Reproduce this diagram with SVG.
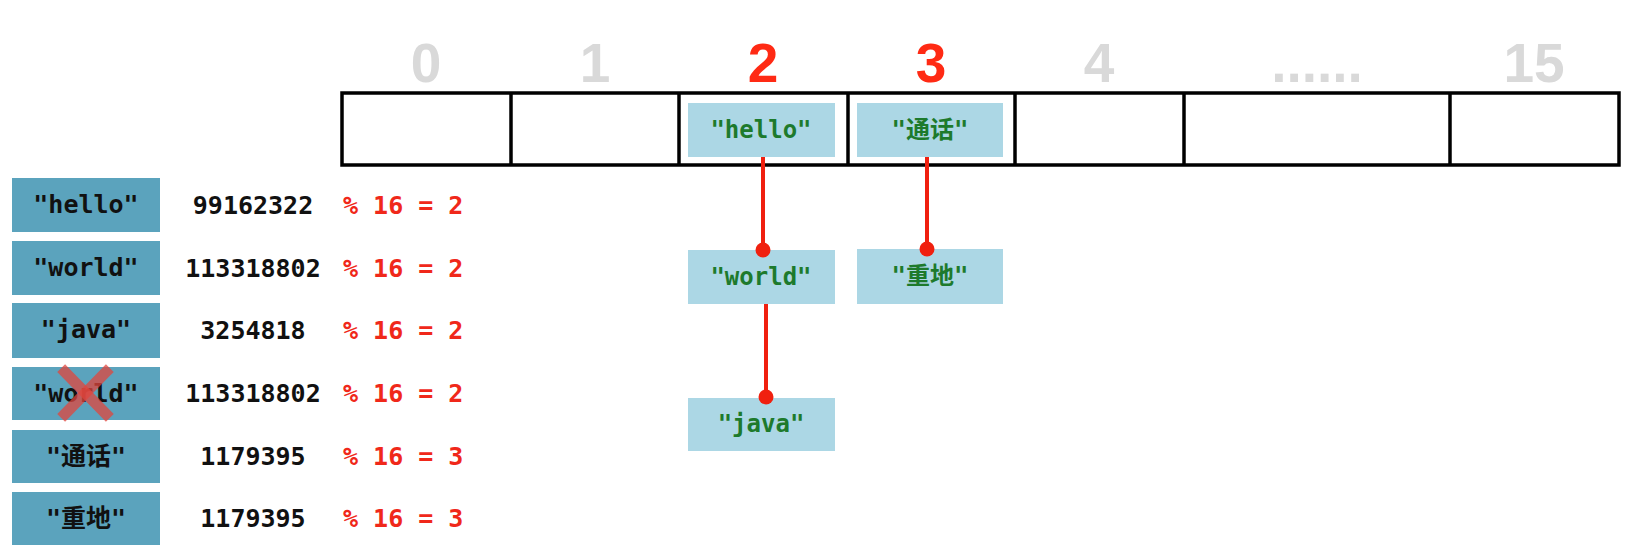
<svg xmlns="http://www.w3.org/2000/svg" width="1642" height="556" viewBox="0 0 1642 556">
<style>
.idx{font-family:"Liberation Sans","Noto Sans",sans-serif;font-weight:bold;font-size:55px;text-anchor:middle}
.gray{fill:#d9d9d9}
.red{fill:#ff2a14}
.key{fill:#5ba3bd}
.keyt{font-family:"DejaVu Sans Mono","Noto Sans CJK SC",monospace;font-weight:bold;font-size:25px;fill:#111;text-anchor:middle}
.num{font-family:"DejaVu Sans Mono",monospace;font-weight:bold;font-size:25px;fill:#111;text-anchor:middle}
.mod{font-family:"DejaVu Sans Mono",monospace;font-weight:bold;font-size:25px;fill:#f0281a}
.node{fill:#acd7e5}
.nodet{font-family:"DejaVu Sans Mono","Noto Sans CJK SC",monospace;font-weight:bold;font-size:24px;fill:#1d7a2c;text-anchor:middle}
.cell{fill:none;stroke:#000;stroke-width:3.5}
.link{stroke:#f0200f;stroke-width:4;fill:none}
.dot{fill:#f0200f}
</style>
<rect width="1642" height="556" fill="#fff"/>
<g id="indices">
<text class="idx gray" x="426" y="82">0</text>
<text class="idx gray" x="595" y="82">1</text>
<text class="idx red" x="763" y="82">2</text>
<text class="idx red" x="931" y="82">3</text>
<text class="idx gray" x="1099" y="82">4</text>
<text class="idx gray" x="1317" y="82">......</text>
<text class="idx gray" x="1534" y="82">15</text>
</g>
<g id="array">
<rect class="cell" x="342" y="93" width="1277" height="72"/>
<line class="cell" x1="511" y1="93" x2="511" y2="165"/>
<line class="cell" x1="679" y1="93" x2="679" y2="165"/>
<line class="cell" x1="848" y1="93" x2="848" y2="165"/>
<line class="cell" x1="1015" y1="93" x2="1015" y2="165"/>
<line class="cell" x1="1184" y1="93" x2="1184" y2="165"/>
<line class="cell" x1="1450" y1="93" x2="1450" y2="165"/>
</g>
<g id="node-hello">
<rect class="node" x="688" y="103" width="147" height="54"/>
<text class="nodet" x="761" y="138">"hello"</text>
</g>
<g id="node-tonghua">
<rect class="node" x="857" y="103" width="146" height="54"/>
<text class="nodet" x="930" y="138">"通话"</text>
</g>
<g id="node-world">
<rect class="node" x="688" y="250" width="147" height="54"/>
<text class="nodet" x="761" y="285">"world"</text>
</g>
<g id="node-zhongdi">
<rect class="node" x="857" y="249" width="146" height="55"/>
<text class="nodet" x="930" y="284">"重地"</text>
</g>
<g id="node-java">
<rect class="node" x="688" y="398" width="147" height="53"/>
<text class="nodet" x="761" y="432">"java"</text>
</g>
<g id="connectors">
<line class="link" x1="763" y1="157" x2="763" y2="250"/>
<circle class="dot" cx="763" cy="250" r="7.5"/>
<line class="link" x1="927" y1="157" x2="927" y2="249"/>
<circle class="dot" cx="927" cy="249" r="7.5"/>
<line class="link" x1="766" y1="304" x2="766" y2="397"/>
<circle class="dot" cx="766" cy="397" r="7.5"/>
</g>
<g id="row-hello">
<rect class="key" x="12" y="178" width="148" height="54"/>
<text class="keyt" x="86" y="213">"hello"</text>
<text class="num" x="253" y="214">99162322</text>
<text class="mod" x="343" y="214">% 16 = 2</text>
</g>
<g id="row-world">
<rect class="key" x="12" y="241" width="148" height="54"/>
<text class="keyt" x="86" y="276">"world"</text>
<text class="num" x="253" y="277">113318802</text>
<text class="mod" x="343" y="277">% 16 = 2</text>
</g>
<g id="row-java">
<rect class="key" x="12" y="303" width="148" height="55"/>
<text class="keyt" x="86" y="338">"java"</text>
<text class="num" x="253" y="339">3254818</text>
<text class="mod" x="343" y="339">% 16 = 2</text>
</g>
<g id="row-world2">
<rect class="key" x="12" y="367" width="148" height="53"/>
<text class="keyt" x="86" y="402">"world"</text>
<text class="num" x="253" y="402">113318802</text>
<text class="mod" x="343" y="402">% 16 = 2</text>
<g id="cross" stroke="#e0463e" stroke-opacity="0.75" stroke-width="11" stroke-linecap="square">
<line x1="65" y1="372" x2="106" y2="414"/>
<line x1="106" y1="372" x2="65" y2="414"/>
</g>
</g>
<g id="row-tonghua">
<rect class="key" x="12" y="430" width="148" height="53"/>
<text class="keyt" x="86" y="465">"通话"</text>
<text class="num" x="253" y="465">1179395</text>
<text class="mod" x="343" y="465">% 16 = 3</text>
</g>
<g id="row-zhongdi">
<rect class="key" x="12" y="492" width="148" height="53"/>
<text class="keyt" x="86" y="527">"重地"</text>
<text class="num" x="253" y="527">1179395</text>
<text class="mod" x="343" y="527">% 16 = 3</text>
</g>
</svg>
